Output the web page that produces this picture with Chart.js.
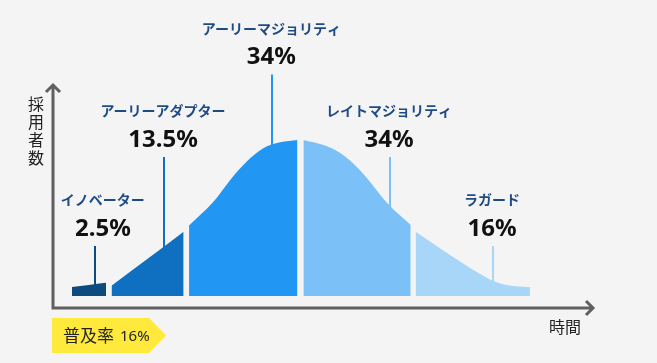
<!DOCTYPE html>
<html><head><meta charset="utf-8">
<script src="https://cdn.jsdelivr.net/npm/chart.js@4"></script>
<style>html,body{margin:0;padding:0;background:#f4f4f4;overflow:hidden}#wrap{width:657px;height:363px;position:relative}</style>
</head><body><div id="wrap"><canvas id="c" width="657" height="363"></canvas></div>
<script>
// ---- data (x = time, y = number of adopters, peak = 100) ----
const segmentNames  = ['イノベーター','アーリーアダプター','アーリーマジョリティ','レイトマジョリティ','ラガード'];
const segmentShares = ['2.5%','13.5%','34%','34%','16%'];

const innovatorsX    = [3.5, 6.6, 9.8];
const innovatorsY    = [5.8, 7.1, 8.5];
const earlyAdoptersX = [10.8, 17.4, 24.1];
const earlyAdoptersY = [6.6, 23.7, 41.2];
const earlyMajorityX = [25.1, 29.6, 32.7, 35.7, 38.8, 41.9, 45.1];
const earlyMajorityY = [45.2, 60.4, 74.4, 86.1, 94.7, 98.5, 100];
const lateMajorityX  = [46.2, 49.9, 53.0, 56.6, 62.0, 66.0];
const lateMajorityY  = [100, 96.8, 91.7, 80.8, 58.3, 45.5];
const laggardsX      = [66.9, 71.4, 78.8, 81.1, 83.7, 88.0];
const laggardsY      = [41.2, 30.6, 14.1, 9.8, 7.1, 5.6];

const leaderX   = [7.7, 20.4, 40.4, 62.1, 81.1];
const leaderTop = [32, 89, 142, 89, 32];
const labelX    = [9.2, 20.3, 40.3, 62.0, 81.0];

const xAxisTitle = '時間';
const yAxisTitle = '採用者数';
const badgeLabel = '普及率';
const badgeValue = '16%';

// ---- styles ----
const segmentColors = ['#0d4a80','#0f6fc0','#2196f3','#7cc0f8','#a8d6f8'];
const seriesX = [innovatorsX, earlyAdoptersX, earlyMajorityX, lateMajorityX, laggardsX];
const seriesY = [innovatorsY, earlyAdoptersY, earlyMajorityY, lateMajorityY, laggardsY];

const JP = '"Noto Sans CJK JP", "Noto Sans", sans-serif';
const NUM = '"Noto Sans", "Open Sans", sans-serif';

const overlay = {
  id: 'overlay',
  beforeDraw(chart){
    const ctx = chart.ctx;
    ctx.save(); ctx.fillStyle = '#f4f4f4'; ctx.fillRect(0,0,chart.width,chart.height); ctx.restore();
  },
  beforeDatasetsDraw(chart){
    const {ctx, scales:{x, y}} = chart;
    ctx.save();
    ctx.lineWidth = 2;
    leaderX.forEach((lx, i) => {
      const px = Math.round(x.getPixelForValue(lx));
      ctx.strokeStyle = segmentColors[i];
      ctx.beginPath();
      ctx.moveTo(px, y.getPixelForValue(leaderTop[i]));
      ctx.lineTo(px, y.getPixelForValue(0) - 2);
      ctx.stroke();
    });
    ctx.restore();
  },
  afterDatasetsDraw(chart){
    const {ctx, chartArea:a, scales:{x, y}} = chart;
    ctx.save();
    // axes
    ctx.strokeStyle = '#606060';
    ctx.lineWidth = 3;
    ctx.lineJoin = 'miter';
    ctx.beginPath();
    ctx.moveTo(a.left, a.bottom);
    ctx.lineTo(a.left, a.top + 2);
    ctx.moveTo(a.left - 7, a.top + 9);
    ctx.lineTo(a.left, a.top + 2);
    ctx.lineTo(a.left + 7, a.top + 9);
    ctx.moveTo(a.left - 1.5, a.bottom);
    ctx.lineTo(a.right - 2, a.bottom);
    ctx.moveTo(a.right - 9, a.bottom - 7);
    ctx.lineTo(a.right - 2, a.bottom);
    ctx.lineTo(a.right - 9, a.bottom + 7);
    ctx.stroke();

    // axis titles
    ctx.fillStyle = '#222';
    ctx.font = '16px ' + JP;
    ctx.textAlign = 'center';
    ctx.textBaseline = 'middle';
    ctx.fillText(xAxisTitle, a.right - 30, a.bottom + 19);
    [...yAxisTitle].forEach((ch, i) => ctx.fillText(ch, a.left - 17, a.top + 21 + i * 18));

    // segment labels
    segmentNames.forEach((name, i) => {
      const cx = x.getPixelForValue(labelX[i]);
      const top = y.getPixelForValue(leaderTop[i]);
      ctx.fillStyle = '#1f4b85';
      ctx.font = 'bold 14px ' + JP;
      ctx.fillText(name, cx, top - 46);
      ctx.fillStyle = '#111';
      ctx.font = 'bold 24px ' + NUM;
      ctx.fillText(segmentShares[i], cx, top - 17);
    });

    // badge
    const bl = a.left - 1, bt = a.bottom + 10, bb = a.bottom + 45, br = a.left + 96, tip = a.left + 113;
    ctx.fillStyle = '#ffe93c';
    ctx.beginPath();
    ctx.moveTo(bl, bt); ctx.lineTo(br, bt); ctx.lineTo(tip, (bt + bb) / 2); ctx.lineTo(br, bb); ctx.lineTo(bl, bb);
    ctx.closePath(); ctx.fill();
    ctx.fillStyle = '#222';
    ctx.textAlign = 'left';
    ctx.font = '17px ' + JP;
    ctx.fillText(badgeLabel, bl + 11, (bt + bb) / 2);
    const w = ctx.measureText(badgeLabel).width;
    ctx.font = '15px ' + NUM;
    ctx.fillText(badgeValue, bl + 11 + w + 6, (bt + bb) / 2 + 1);
    ctx.restore();
  }
};

new Chart(document.getElementById('c'), {
  type: 'line',
  data: {
    datasets: seriesX.map((xs, i) => ({
      label: segmentNames[i],
      data: xs.map((v, j) => ({x: v, y: seriesY[i][j]})),
      backgroundColor: segmentColors[i],
      borderColor: segmentColors[i],
      borderWidth: 0,
      pointRadius: 0,
      fill: 'origin',
      cubicInterpolationMode: 'monotone'
    }))
  },
  options: {
    responsive: false,
    animation: false,
    layout: {padding: {left: 53, right: 62, top: 83, bottom: 55}},
    plugins: {legend: {display: false}, tooltip: {enabled: false}},
    scales: {
      x: {type: 'linear', min: 0, max: 100, display: false},
      y: {min: -7.7, max: 136.5, display: false}
    }
  },
  plugins: [overlay]
});
</script></body></html>
